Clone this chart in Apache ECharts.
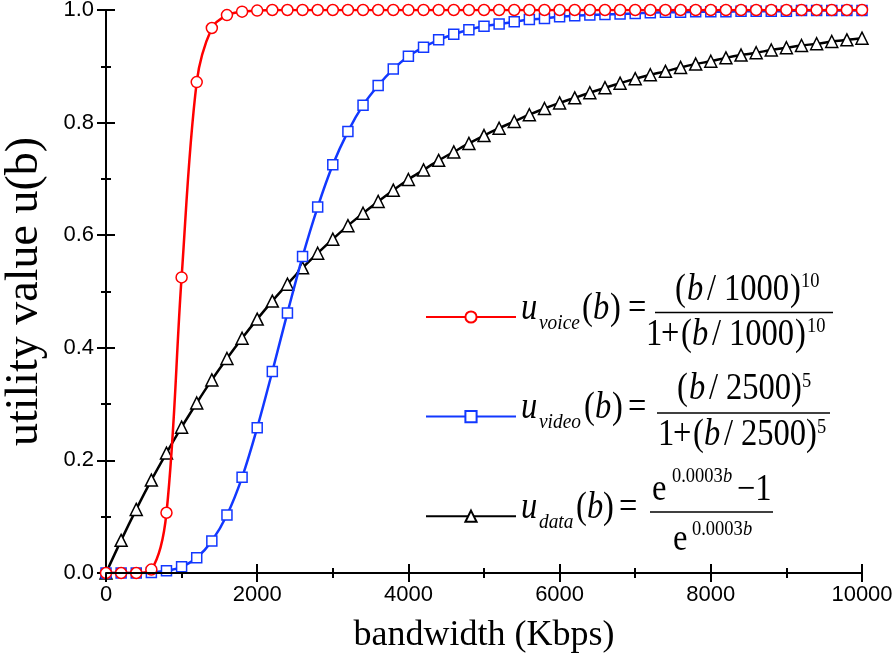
<!DOCTYPE html>
<html>
<head>
<meta charset="utf-8">
<title>utility value u(b)</title>
<script src="https://cdn.jsdelivr.net/npm/echarts@6/dist/echarts.min.js"></script>
<style>
  html, body { margin: 0; padding: 0; background: #fff; }
  #main { width: 894px; height: 662px; }
</style>
</head>
<body>
<div id="main"></div>
<script>
// bandwidth samples (Kbps), one marker each
var bandwidth = [0, 200, 400, 600, 800, 1000, 1200, 1400, 1600, 1800,
  2000, 2200, 2400, 2600, 2800, 3000, 3200, 3400, 3600, 3800,
  4000, 4200, 4400, 4600, 4800, 5000, 5200, 5400, 5600, 5800,
  6000, 6200, 6400, 6600, 6800, 7000, 7200, 7400, 7600, 7800,
  8000, 8200, 8400, 8600, 8800, 9000, 9200, 9400, 9600, 9800, 10000];

var voiceUtility = [0, 0, 0, 0.006, 0.107, 0.525, 0.872, 0.968, 0.991, 0.997,
  0.999, 1, 1, 1, 1, 1, 1, 1, 1, 1,
  1, 1, 1, 1, 1, 1, 1, 1, 1, 1,
  1, 1, 1, 1, 1, 1, 1, 1, 1, 1,
  1, 1, 1, 1, 1, 1, 1, 1, 1, 1, 1];

var videoUtility = [0, 0, 0, 0.001, 0.004, 0.011, 0.027, 0.057, 0.103, 0.170,
  0.258, 0.358, 0.462, 0.562, 0.650, 0.725, 0.784, 0.831, 0.866, 0.895,
  0.918, 0.934, 0.947, 0.957, 0.965, 0.971, 0.975, 0.979, 0.983, 0.985,
  0.988, 0.990, 0.991, 0.992, 0.993, 0.994, 0.995, 0.996, 0.996, 0.997,
  0.997, 0.997, 0.998, 0.998, 0.998, 0.998, 0.999, 0.999, 0.999, 0.999, 0.999];

var dataUtility = [0, 0.058, 0.113, 0.165, 0.213, 0.259, 0.302, 0.343, 0.381, 0.417,
  0.451, 0.483, 0.513, 0.542, 0.568, 0.593, 0.617, 0.639, 0.660, 0.680,
  0.699, 0.716, 0.733, 0.748, 0.763, 0.777, 0.790, 0.802, 0.814, 0.825,
  0.835, 0.844, 0.853, 0.862, 0.870, 0.878, 0.885, 0.891, 0.898, 0.904,
  0.909, 0.915, 0.920, 0.924, 0.929, 0.933, 0.937, 0.940, 0.944, 0.947, 0.950];

var xTicks = [0, 2000, 4000, 6000, 8000, 10000];
var yTicks = [0.0, 0.2, 0.4, 0.6, 0.8, 1.0];

var SERIF = '"Liberation Serif", "Times New Roman", serif';
var SANS = '"Liberation Sans", Arial, sans-serif';

function pairs(ys) {
  return bandwidth.map(function (b, i) { return [b, ys[i]]; });
}

// one piece of formula text, placed by its left edge and baseline;
// glyphs are a bit narrow in the original, hence scaleX
function txt(x, base, s, size, italic) {
  return {
    type: 'text', x: x, y: base - 0.34 * size, scaleX: 0.88, silent: true, z: 10,
    style: {
      text: s, font: (italic ? 'italic ' : '') + size + 'px ' + SERIF,
      fill: '#000', textAlign: 'left', textVerticalAlign: 'middle'
    }
  };
}
function fracBar(x1, x2, y) {
  return { type: 'line', silent: true, z: 10,
    shape: { x1: x1, y1: y, x2: x2, y2: y },
    style: { stroke: '#000', lineWidth: 1.5 } };
}

var F = 37, S = 21, SUB = 22;
var formulas = [
  // voice
  txt(521, 322, 'u', F, true), txt(539, 331, 'voice', SUB, true),
  txt(582, 322, '(', F), txt(593, 322, 'b', F, true), txt(610, 322, ')', F),
  txt(628, 322, '=', F),
  fracBar(655, 833, 312.5),
  txt(675, 303, '(', F), txt(687, 303, 'b', F, true), txt(707, 303, '/', F),
  txt(724, 303, '1000', F), txt(790, 303, ')', F), txt(801, 289, '10', S),
  txt(646, 348, '1', F), txt(661, 348, '+', F), txt(681, 348, '(', F),
  txt(692, 348, 'b', F, true), txt(712, 348, '/', F), txt(729, 348, '1000', F),
  txt(795, 348, ')', F), txt(807, 334, '10', S),
  // video
  txt(521, 421, 'u', F, true), txt(539, 430, 'video', SUB, true),
  txt(584, 421, '(', F), txt(595, 421, 'b', F, true), txt(612, 421, ')', F),
  txt(628, 421, '=', F),
  fracBar(657, 830, 413),
  txt(677, 402, '(', F), txt(689, 402, 'b', F, true), txt(709, 402, '/', F),
  txt(726, 402, '2500', F), txt(791, 402, ')', F), txt(802, 389, '5', S),
  txt(658, 448, '1', F), txt(673, 448, '+', F), txt(693, 448, '(', F),
  txt(704, 448, 'b', F, true), txt(724, 448, '/', F), txt(741, 448, '2500', F),
  txt(806, 448, ')', F), txt(817, 435, '5', S),
  // data
  txt(521, 521, 'u', F, true), txt(539, 530, 'data', SUB, true),
  txt(576, 521, '(', F), txt(587, 521, 'b', F, true), txt(603, 521, ')', F),
  txt(619, 521, '=', F),
  fracBar(650, 773, 512),
  txt(652, 503, 'e', F), txt(672, 484, '0.0003', S), txt(723, 484, 'b', S, true),
  txt(737, 503, '\u22121', F),
  txt(673, 553, 'e', F), txt(692, 537, '0.0003', S), txt(743, 537, 'b', S, true)
];

var chart = echarts.init(document.getElementById('main'));

var frameAxis = {
  axisLine: { show: true, lineStyle: { color: '#000', width: 2 } },
  axisTick: { show: true, inside: true, length: 9, lineStyle: { color: '#000', width: 2 } },
  minorTick: { show: true, splitNumber: 2, length: 5, lineStyle: { color: '#000', width: 2 } },
  splitLine: { show: false }
};

function lineSeries(name, ys, color, symbol, size, z) {
  return {
    name: name, type: 'line', data: pairs(ys),
    xAxisIndex: 0, yAxisIndex: 0,
    smooth: 0.35, showAllSymbol: true,
    symbol: symbol, symbolSize: size, z: z,
    lineStyle: { color: color, width: 2.5 },
    itemStyle: { color: '#fff', borderColor: color, borderWidth: 1.5 },
    emphasis: { disabled: true }
  };
}

chart.setOption({
  animation: false,
  backgroundColor: '#fff',
  grid: { left: 106, right: 32, top: 10, bottom: 89, containLabel: false, outerBoundsMode: 'none' },
  legend: {
    data: ['voice', 'video', 'data'],
    orient: 'vertical', left: 420, top: 305,
    itemWidth: 90, itemHeight: 14, itemGap: 86,
    formatter: function () { return ''; },
    textStyle: { fontSize: 10 },
    selectedMode: false
  },
  xAxis: [
    Object.assign({
      type: 'value', position: 'bottom',
      min: xTicks[0], max: xTicks[xTicks.length - 1], interval: xTicks[1] - xTicks[0],
      name: 'bandwidth (Kbps)', nameLocation: 'middle', nameGap: 45,
      nameTextStyle: { fontFamily: SERIF, fontSize: 36, color: '#000' },
      axisLabel: { color: '#000', fontFamily: SANS, fontSize: 22, margin: 11,
        formatter: function (v) { return String(v); } }
    }, frameAxis),
    Object.assign({
      type: 'value', position: 'top', z: 5,
      min: xTicks[0], max: xTicks[xTicks.length - 1], interval: xTicks[1] - xTicks[0],
      axisLabel: { show: false }
    }, frameAxis)
  ],
  yAxis: [
    Object.assign({
      type: 'value', position: 'left',
      min: yTicks[0], max: yTicks[yTicks.length - 1], interval: 0.2,
      name: 'utility value u(b)', nameLocation: 'middle', nameGap: 58, nameRotate: 90,
      nameTextStyle: { fontFamily: SERIF, fontSize: 46, color: '#000' },
      axisLabel: { color: '#000', fontFamily: SANS, fontSize: 22, margin: 12,
        formatter: function (v) { return v.toFixed(1); } }
    }, frameAxis),
    Object.assign({
      type: 'value', position: 'right',
      min: yTicks[0], max: yTicks[yTicks.length - 1], interval: 0.2,
      axisLabel: { show: false }
    }, frameAxis)
  ],
  series: [
    lineSeries('data', dataUtility, '#000000', 'triangle', 12, 2),
    lineSeries('video', videoUtility, '#1238ff', 'rect', 10, 3),
    lineSeries('voice', voiceUtility, '#ff0000', 'circle', 11, 4)
  ],
  graphic: formulas
});
</script>
</body>
</html>
